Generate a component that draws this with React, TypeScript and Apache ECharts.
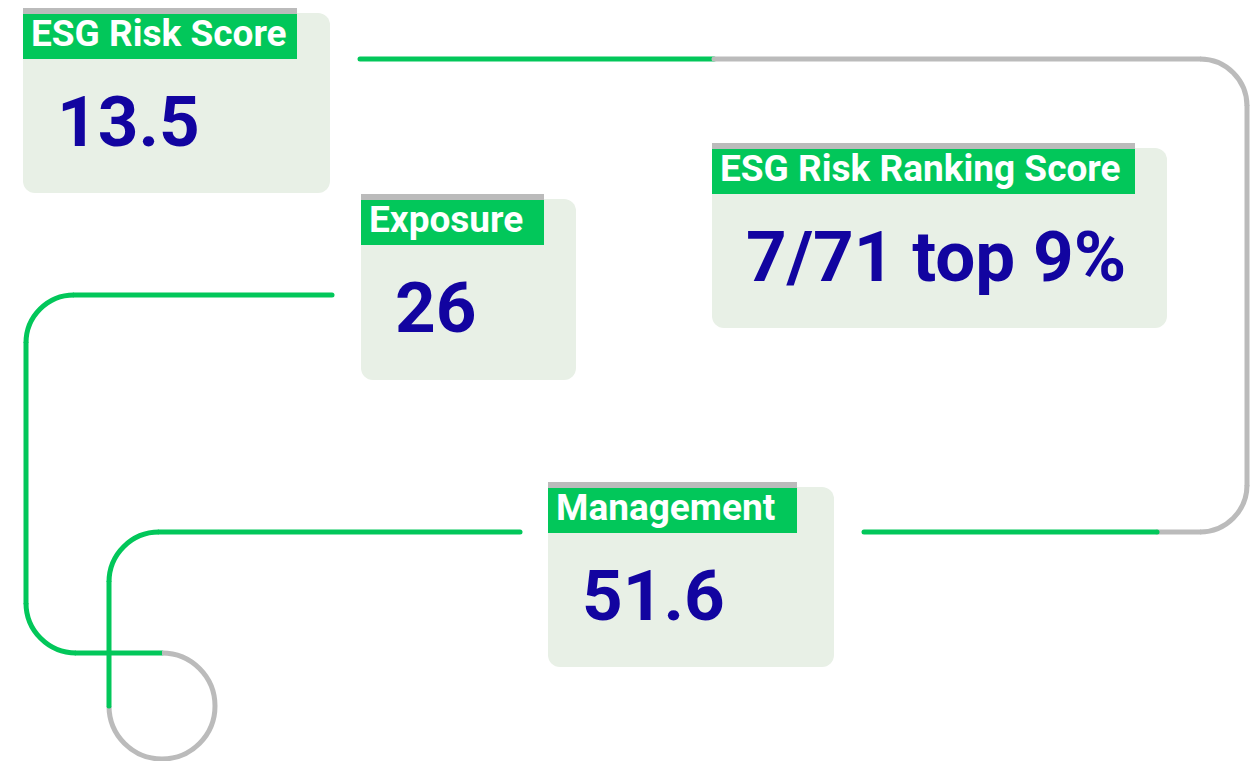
import React, { useEffect, useRef } from "react";
import * as echarts from "echarts";

const titles = ["ESG Risk Score", "Exposure", "ESG Risk Ranking Score", "Management"];
const values = ["13.5", "26", "7/71 top 9%", "51.6"];

// layout (box x, y, width, height, label width)
const boxes = [
  { x: 23, y: 13, w: 307, h: 180, lw: 274, labelTop: 8 },
  { x: 361, y: 199, w: 215, h: 181, lw: 183, labelTop: 194 },
  { x: 712, y: 148, w: 455, h: 180, lw: 423, labelTop: 143 },
  { x: 548, y: 487, w: 286, h: 180, lw: 249, labelTop: 482 },
];

const GREEN = "#02C75A";
const GRAY = "#BBBBBB";
const BLUE = "#1204A0";
const BG = "#E8F0E6";
const FONT = "Roboto, 'Noto Sans', sans-serif";
const LW = 5;

export default function App() {
  const ref = useRef<HTMLDivElement>(null);
  useEffect(() => {
    if (!ref.current) return;
    const chart = echarts.init(ref.current, undefined, { renderer: "svg" });
    const line = (x1: number, y1: number, x2: number, y2: number, c: string) => ({
      type: "line",
      shape: { x1, y1, x2, y2 },
      style: { stroke: c, lineWidth: LW, lineCap: "round" },
      z: 1,
    });
    const arc = (cx: number, cy: number, r: number, s: number, e: number, c: string) => ({
      type: "arc",
      shape: { cx, cy, r, startAngle: s, endAngle: e, clockwise: true },
      style: { stroke: c, lineWidth: LW, fill: "none", lineCap: "butt" },
      z: 1,
    });
    const P = Math.PI;
    const lines: any[] = [
      // top-right path
      line(360, 59, 714, 59, GREEN),
      line(714, 59, 1200, 59, GRAY),
      arc(1200, 106, 47, -P / 2, 0, GRAY),
      line(1247, 106, 1247, 485, GRAY),
      arc(1200, 485, 47, 0, P / 2, GRAY),
      line(1200, 532, 1157, 532, GRAY),
      line(1157, 532, 864, 532, GREEN),
      // left path
      line(332, 295, 74, 295, GREEN),
      arc(74, 343, 48, P, (3 * P) / 2, GREEN),
      line(26, 343, 26, 603, GREEN),
      arc(76, 603, 50, P / 2, P, GREEN),
      line(76, 653, 162, 653, GREEN),
      arc(162, 706, 53, -P / 2, P, GRAY),
      line(109, 706, 109, 582, GREEN),
      arc(159, 582, 50, P, (3 * P) / 2, GREEN),
      line(159, 532, 520, 532, GREEN),
    ];
    const boxEls: any[] = [];
    boxes.forEach((b, i) => {
      boxEls.push({
        type: "rect",
        shape: { x: b.x, y: b.y, width: b.w, height: b.h, r: 12 },
        style: { fill: BG },
        z: 2,
      });
      boxEls.push({
        type: "rect",
        shape: { x: b.x, y: b.labelTop, width: b.lw, height: 6 },
        style: { fill: GRAY },
        z: 3,
      });
      boxEls.push({
        type: "rect",
        shape: { x: b.x, y: b.labelTop + 6, width: b.lw, height: 45 },
        style: { fill: GREEN },
        z: 3,
      });
      boxEls.push({
        type: "text",
        style: {
          text: titles[i],
          x: b.x + 8,
          y: b.labelTop + 25,
          fill: "#FFFFFF",
          font: `bold 37px ${FONT}`,
          textAlign: "left",
          textVerticalAlign: "middle",
        },
        z: 4,
      });
      boxEls.push({
        type: "text",
        style: {
          text: values[i],
          x: b.x + 34,
          y: b.labelTop + 113,
          fill: BLUE,
          font: `bold 71px ${FONT}`,
          textAlign: "left",
          textVerticalAlign: "middle",
        },
        z: 4,
      });
    });
    chart.setOption({
      animation: false,
      graphic: { elements: [...lines, ...boxEls] },
    });
    return () => chart.dispose();
  }, []);
  return (
    <div
      ref={ref}
      style={{ position: "fixed", left: 0, top: 0, width: 1255, height: 761, background: "#fff" }}
    />
  );
}
